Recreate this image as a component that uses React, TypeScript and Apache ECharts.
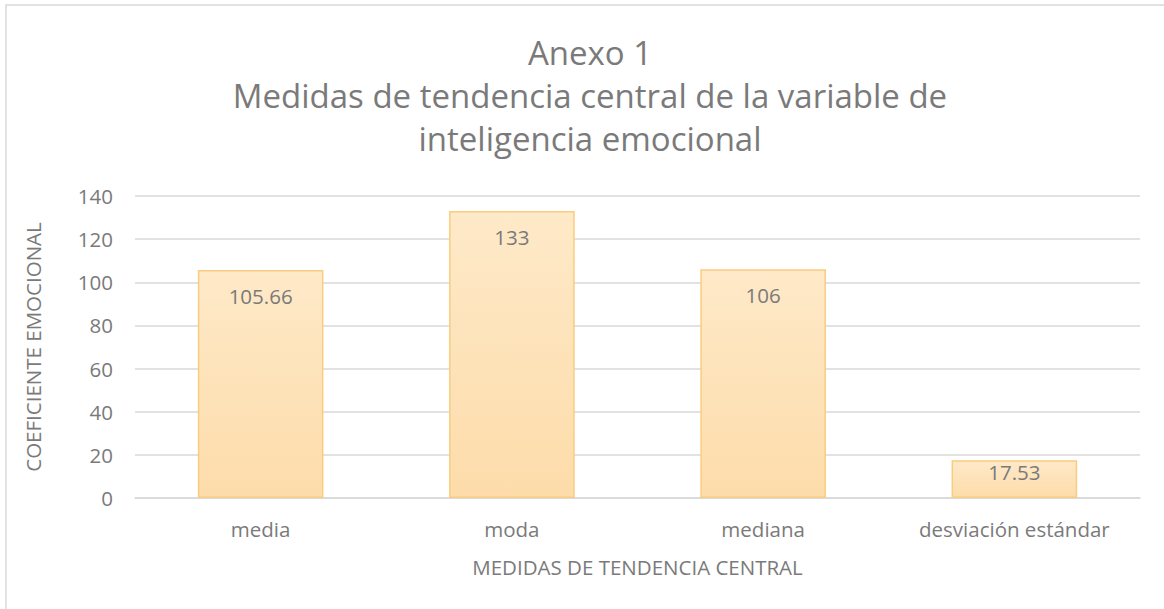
import React, { useEffect, useRef } from "react";
import * as echarts from "echarts";

const titleLines = [
  "Anexo 1",
  "Medidas de tendencia central de la variable de",
  "inteligencia emocional",
];
const categories = ["media", "moda", "mediana", "desviación estándar"];
const values = [105.66, 133, 106, 17.53];
const yTicks = { min: 0, max: 140, interval: 20 };
const xAxisName = "MEDIDAS DE TENDENCIA CENTRAL";
const yAxisName = "COEFICIENTE EMOCIONAL";

const FONT = "'Open Sans', 'Noto Sans', sans-serif";
const TEXT = "#7a7a7a";
const FS = 20.5;

export default function App() {
  const ref = useRef<HTMLDivElement>(null);
  useEffect(() => {
    if (!ref.current) return;
    const chart = echarts.init(ref.current, undefined, { renderer: "svg" });
    chart.setOption({
      animation: false,
      backgroundColor: "#ffffff",
      textStyle: { fontFamily: FONT },
      title: {
        text: titleLines.join("\n"),
        left: 585,
        top: 26,
        textAlign: "center",
        textStyle: {
          fontFamily: FONT,
          fontSize: 33,
          fontWeight: "normal",
          color: TEXT,
          lineHeight: 43,
        },
      },
      graphic: [
        {
          type: "rect",
          shape: { x: 6, y: 5, width: 1170, height: 620 },
          style: { fill: "none", stroke: "#d9d9d9", lineWidth: 1.5 },
          silent: true,
        },
      ],
      grid: { left: 135, right: 24, top: 196, bottom: 111, containLabel: false },
      xAxis: {
        type: "category",
        data: categories,
        name: xAxisName,
        nameLocation: "middle",
        nameGap: 58,
        nameTextStyle: { color: TEXT, fontSize: FS, fontFamily: FONT },
        axisLine: { show: true, lineStyle: { color: "#d9d9d9", width: 1.5 } },
        axisTick: { show: false },
        axisLabel: { color: TEXT, fontSize: FS, margin: 20, fontFamily: FONT },
      },
      yAxis: {
        type: "value",
        min: yTicks.min,
        max: yTicks.max,
        interval: yTicks.interval,
        name: yAxisName,
        nameLocation: "middle",
        nameRotate: 90,
        nameGap: 92,
        nameTextStyle: { color: TEXT, fontSize: FS, fontFamily: FONT },
        axisLine: { show: false },
        axisTick: { show: false },
        axisLabel: { color: TEXT, fontSize: FS, margin: 22, fontFamily: FONT },
        splitLine: { lineStyle: { color: "#d9d9d9", width: 1.5 } },
      },
      series: [
        {
          type: "bar",
          barWidth: "50%",
          data: values.map((v, i) => ({
            value: v,
            label: { distance: i === values.length - 1 ? 1 : 15 },
          })),
          itemStyle: {
            color: new echarts.graphic.LinearGradient(0, 0, 0, 1, [
              { offset: 0, color: "#fee9c8" },
              { offset: 1, color: "#fddcaa" },
            ]),
            borderColor: "#f9cc80",
            borderWidth: 1.5,
          },
          label: {
            show: true,
            position: "insideTop",
            color: TEXT,
            fontSize: FS,
            fontFamily: FONT,
            formatter: (p: any) => String(p.value),
          },
        },
      ],
    });
    return () => chart.dispose();
  }, []);
  return (
    <div
      ref={ref}
      style={{ position: "fixed", left: 0, top: 0, width: 1164, height: 609 }}
    />
  );
}
